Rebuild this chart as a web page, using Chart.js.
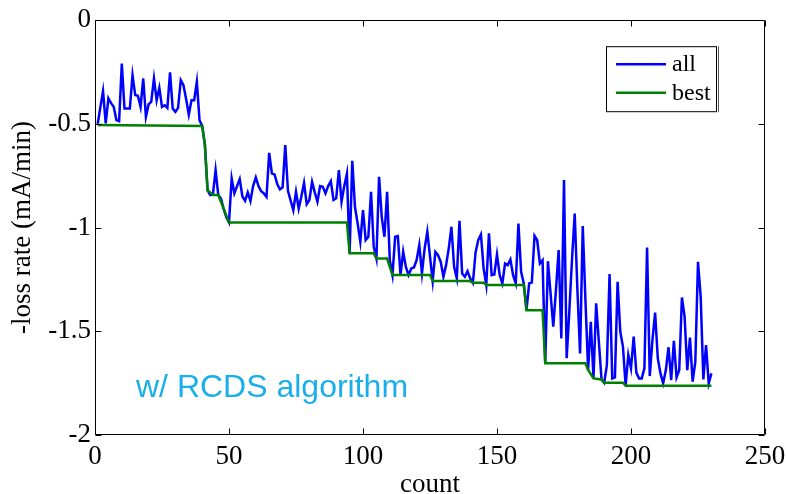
<!DOCTYPE html>
<html>
<head>
<meta charset="utf-8">
<script src="https://cdn.jsdelivr.net/npm/chart.js@4.4.1/dist/chart.umd.min.js"></script>
<style>
  html, body { margin: 0; padding: 0; background: #fff; }
</style>
</head>
<body>
<canvas id="myChart" width="786" height="494"></canvas>
<script>
// -loss rate of every evaluation (count = 1..230)
const allValues = [
  -0.50, -0.42, -0.342, -0.498, -0.377, -0.40, -0.418, -0.482, -0.487, -0.209,
  -0.426, -0.426, -0.426, -0.265, -0.361, -0.364, -0.418, -0.281, -0.466, -0.406,
  -0.393, -0.281, -0.386, -0.326, -0.418, -0.410, -0.423, -0.252, -0.426, -0.442,
  -0.423, -0.289, -0.313, -0.38, -0.455, -0.386, -0.386, -0.297, -0.482, -0.51,
  -0.60, -0.82, -0.843, -0.84, -0.723, -0.843, -0.86, -0.91, -0.95, -0.975,
  -0.763, -0.835, -0.80, -0.766, -0.85, -0.871, -0.83, -0.872, -0.80, -0.758,
  -0.80, -0.824, -0.835, -0.852, -0.64, -0.739, -0.744, -0.79, -0.816, -0.806,
  -0.602, -0.823, -0.87, -0.916, -0.827, -0.908, -0.85, -0.784, -0.887, -0.867,
  -0.779, -0.83, -0.875, -0.80, -0.803, -0.835, -0.80, -0.776, -0.867, -0.859,
  -0.723, -0.875, -0.80, -0.739, -1.124, -0.678, -0.90, -0.98, -1.068, -0.916,
  -1.06, -1.044, -0.827, -1.092, -1.149, -0.755, -0.95, -1.044, -0.827, -1.157,
  -1.229, -1.044, -1.041, -1.229, -1.116, -1.19, -1.229, -1.197, -1.192, -1.157,
  -1.084, -1.22, -1.10, -1.02, -1.14, -1.258, -1.117, -1.133, -1.165, -1.237,
  -1.181, -1.10, -0.996, -1.189, -1.245, -0.967, -1.221, -1.237, -1.21, -1.245,
  -1.266, -1.12, -1.06, -1.033, -1.197, -1.277, -1.028, -1.229, -1.226, -1.129,
  -1.229, -1.269, -1.173, -1.181, -1.154, -1.229, -1.269, -0.98, -1.213, -1.269,
  -1.398, -1.269, -1.265, -1.04, -1.061, -1.173, -1.157, -1.654, -1.162, -1.32,
  -1.478, -1.30, -1.108, -1.534, -0.771, -1.63, -1.40, -1.15, -0.932, -1.30,
  -1.607, -0.993, -1.35, -1.686, -1.454, -1.727, -1.365, -1.55, -1.732, -1.748,
  -1.663, -1.224, -1.727, -1.722, -1.261, -1.502, -1.574, -1.762, -1.614, -1.678,
  -1.526, -1.699, -1.727, -1.727, -1.678, -1.096, -1.716, -1.542, -1.41, -1.631,
  -1.703, -1.751, -1.687, -1.577, -1.735, -1.546, -1.722, -1.687, -1.337, -1.43,
  -1.687, -1.53, -1.743, -1.647, -1.165, -1.333, -1.732, -1.566, -1.751, -1.703
];

// best-so-far curve, read as its corner points
const bestCounts = [1, 40, 41, 42, 44, 46, 50, 94, 95, 104, 105, 109, 111, 125, 126,
  140, 141, 145, 146, 160, 161, 167, 168, 183, 184, 186, 189, 190, 197, 198, 230];
const bestValues = [-0.505, -0.51, -0.60, -0.82, -0.843, -0.843, -0.975, -0.975, -1.124,
  -1.124, -1.149, -1.149, -1.229, -1.229, -1.258, -1.258, -1.266, -1.266, -1.277, -1.277,
  -1.398, -1.398, -1.654, -1.654, -1.686, -1.727, -1.732, -1.748, -1.748, -1.762, -1.762];

const xTicks = [0, 50, 100, 150, 200, 250];
const yTicks = [0, -0.5, -1, -1.5, -2];

const serif = 'Liberation Serif';

// MATLAB style box with inward ticks
const boxPlugin = {
  id: 'boxPlugin',
  afterDatasetsDraw(chart) {
    const { ctx, chartArea: a, scales: { x, y } } = chart;
    const l = Math.round(a.left) + 0.5, r = Math.round(a.right) - 0.5;
    const t = Math.round(a.top) + 0.5, b = Math.round(a.bottom) - 0.5;
    const len = 6;
    ctx.save();
    ctx.strokeStyle = '#000';
    ctx.lineWidth = 1;
    ctx.beginPath();
    ctx.rect(l, t, r - l, b - t);
    xTicks.forEach(v => {
      const px = Math.round(x.getPixelForValue(v)) + 0.5;
      ctx.moveTo(px, b); ctx.lineTo(px, b - len);
      ctx.moveTo(px, t); ctx.lineTo(px, t + len);
    });
    yTicks.forEach(v => {
      const py = Math.round(y.getPixelForValue(v)) + 0.5;
      ctx.moveTo(l, py); ctx.lineTo(l + len, py);
      ctx.moveTo(r, py); ctx.lineTo(r - len, py);
    });
    ctx.stroke();
    ctx.restore();
  }
};

const legendAndNote = {
  id: 'legendAndNote',
  afterDraw(chart) {
    const { ctx, chartArea: a, scales: { x, y } } = chart;
    ctx.save();
    // legend box
    const bx = a.right - 159, by = a.top + 26, bw = 110, bh = 65;
    ctx.fillStyle = '#fff';
    ctx.fillRect(bx, by, bw, bh);
    ctx.strokeStyle = '#000';
    ctx.lineWidth = 1;
    ctx.strokeRect(bx + 0.5, by + 0.5, bw, bh);
    ctx.strokeStyle = '#555';
    ctx.beginPath();
    ctx.moveTo(bx + bw + 2.5, by); ctx.lineTo(bx + bw + 2.5, by + bh + 1);
    ctx.stroke();
    ctx.font = '24px "' + serif + '"';
    ctx.textBaseline = 'alphabetic';
    ctx.textAlign = 'left';
    chart.data.datasets.forEach((ds, i) => {
      const ly = by + 18 + i * 28.5;
      ctx.strokeStyle = ds.borderColor;
      ctx.lineWidth = 2.5;
      ctx.beginPath();
      ctx.moveTo(bx + 10, ly); ctx.lineTo(bx + 60, ly);
      ctx.stroke();
      ctx.fillStyle = '#000';
      ctx.fillText(ds.label, bx + 66, ly + 7);
    });
    // annotation
    ctx.font = '32px "Liberation Sans"';
    ctx.fillStyle = '#1AAEEA';
    ctx.fillText('w/ RCDS algorithm', x.getPixelForValue(15.3), y.getPixelForValue(-1.817));
    ctx.restore();
  }
};

const grafico = document.getElementById('myChart');

new Chart(grafico, {
  type: 'line',
  data: {
    datasets: [
      {
        label: 'all',
        data: allValues.map((v, i) => ({ x: i + 1, y: v })),
        borderColor: '#0000FF',
        borderWidth: 2.5,
        pointRadius: 0,
        tension: 0,
        order: 1
      },
      {
        label: 'best',
        data: bestCounts.map((c, i) => ({ x: c, y: bestValues[i] })),
        borderColor: '#008000',
        borderWidth: 2.5,
        pointRadius: 0,
        tension: 0,
        order: 0
      }
    ]
  },
  options: {
    responsive: false,
    animation: false,
    devicePixelRatio: 1,
    layout: { padding: { left: 0, right: 21, top: 20, bottom: 0 } },
    plugins: { legend: { display: false }, tooltip: { enabled: false } },
    scales: {
      x: {
        type: 'linear',
        min: 0,
        max: 250,
        grid: { display: false, drawTicks: false },
        border: { display: false },
        ticks: {
          stepSize: 50,
          color: '#000',
          padding: 6,
          maxRotation: 0,
          font: { family: serif, size: 27 }
        },
        title: {
          display: true,
          text: 'count',
          color: '#000',
          font: { family: serif, size: 27, lineHeight: 0.7 },
          padding: { top: 0, bottom: 0 }
        },
        afterFit(scale) {
          scale.height = 59;
          scale.paddingLeft = 0;
          scale.paddingRight = 0;
        }
      },
      y: {
        min: -2,
        max: 0,
        grid: { display: false, drawTicks: false },
        border: { display: false },
        ticks: {
          stepSize: 0.5,
          color: '#000',
          padding: 4,
          font: { family: serif, size: 27 },
          callback: v => String(v)
        },
        title: {
          display: true,
          text: '-loss rate (mA/min)',
          color: '#000',
          font: { family: serif, size: 27, lineHeight: 1 },
          padding: { top: 9, bottom: 0 }
        },
        afterFit(scale) { scale.width = 95; }
      }
    }
  },
  plugins: [boxPlugin, legendAndNote]
});
</script>
</body>
</html>
